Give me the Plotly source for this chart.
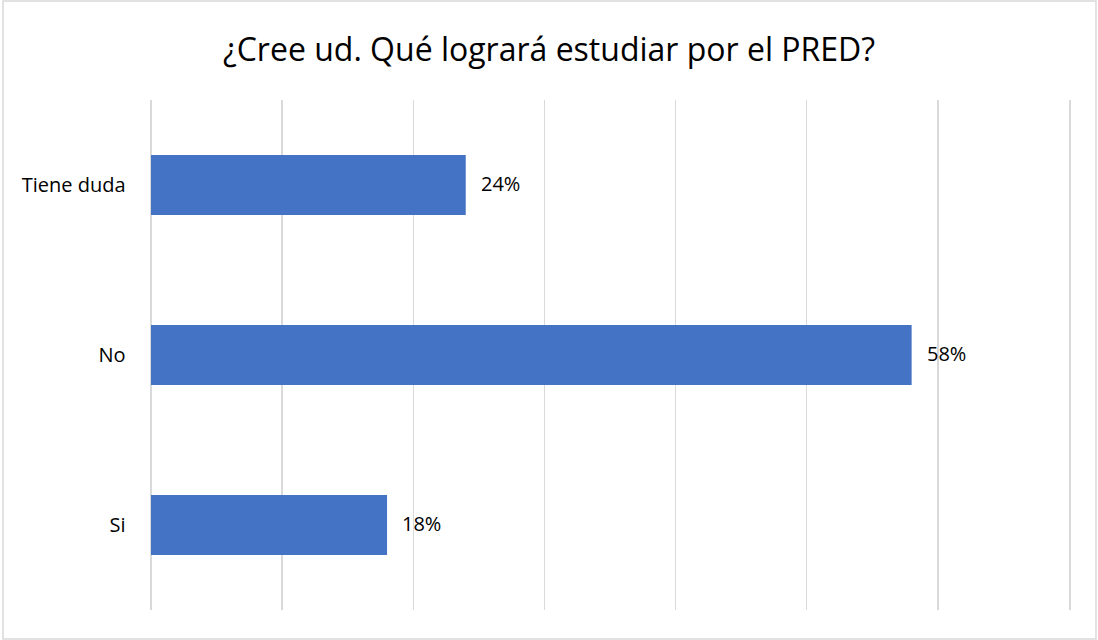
import plotly.graph_objects as go

categories = ["Si", "No", "Tiene duda"]
values = [0.18, 0.58, 0.24]
title_text = "¿Cree ud. Qué logrará estudiar por el PRED?"

FONT = "Open Sans"
GRID = "#D9D9D9"

fig = go.Figure()
fig.add_trace(go.Bar(
    x=values, y=categories, orientation="h",
    marker=dict(color="#4472C4", line=dict(width=0)),
    width=0.353, hoverinfo="skip",
))

for c, v in zip(categories, values):
    fig.add_annotation(x=v, y=c, text=f"{round(v*100)}%", showarrow=False,
                       xanchor="left", xshift=13, yshift=2,
                       font=dict(family=FONT, size=20, color="#000000"))

fig.update_layout(
    width=1098, height=640,
    margin=dict(l=151, r=29, t=100, b=30),
    paper_bgcolor="white", plot_bgcolor="white",
    showlegend=False,
    title=dict(text=title_text, x=0.5, xanchor="center", y=0.922, yanchor="middle",
               font=dict(family=FONT, size=32, color="#000000")),
    xaxis=dict(range=[0, 0.7], dtick=0.1, tick0=0, showticklabels=False,
               showgrid=True, gridcolor=GRID, gridwidth=1.5,
               zeroline=True, zerolinecolor=GRID, zerolinewidth=1.5,
               showline=False, fixedrange=True),
    yaxis=dict(range=[-0.5, 2.5], showgrid=False, zeroline=False,
               showline=True, mirror=True, linecolor=GRID, linewidth=1.5,
               ticks="outside", ticklen=20, tickcolor="rgba(0,0,0,0)",
               tickfont=dict(family=FONT, size=20, color="#000000"),
               fixedrange=True),
    shapes=[dict(type="rect", xref="paper", yref="paper",
                 x0=-148/918, x1=1 + 27/918,
                 y0=-29/510, y1=1 + 99/510,
                 line=dict(color=GRID, width=1.5),
                 fillcolor="rgba(0,0,0,0)", layer="below")],
)

fig.write_html("out.html",
               config={"displayModeBar": False, "staticPlot": True},
               post_script="document.body.style.margin='0';document.body.style.padding='0';")
